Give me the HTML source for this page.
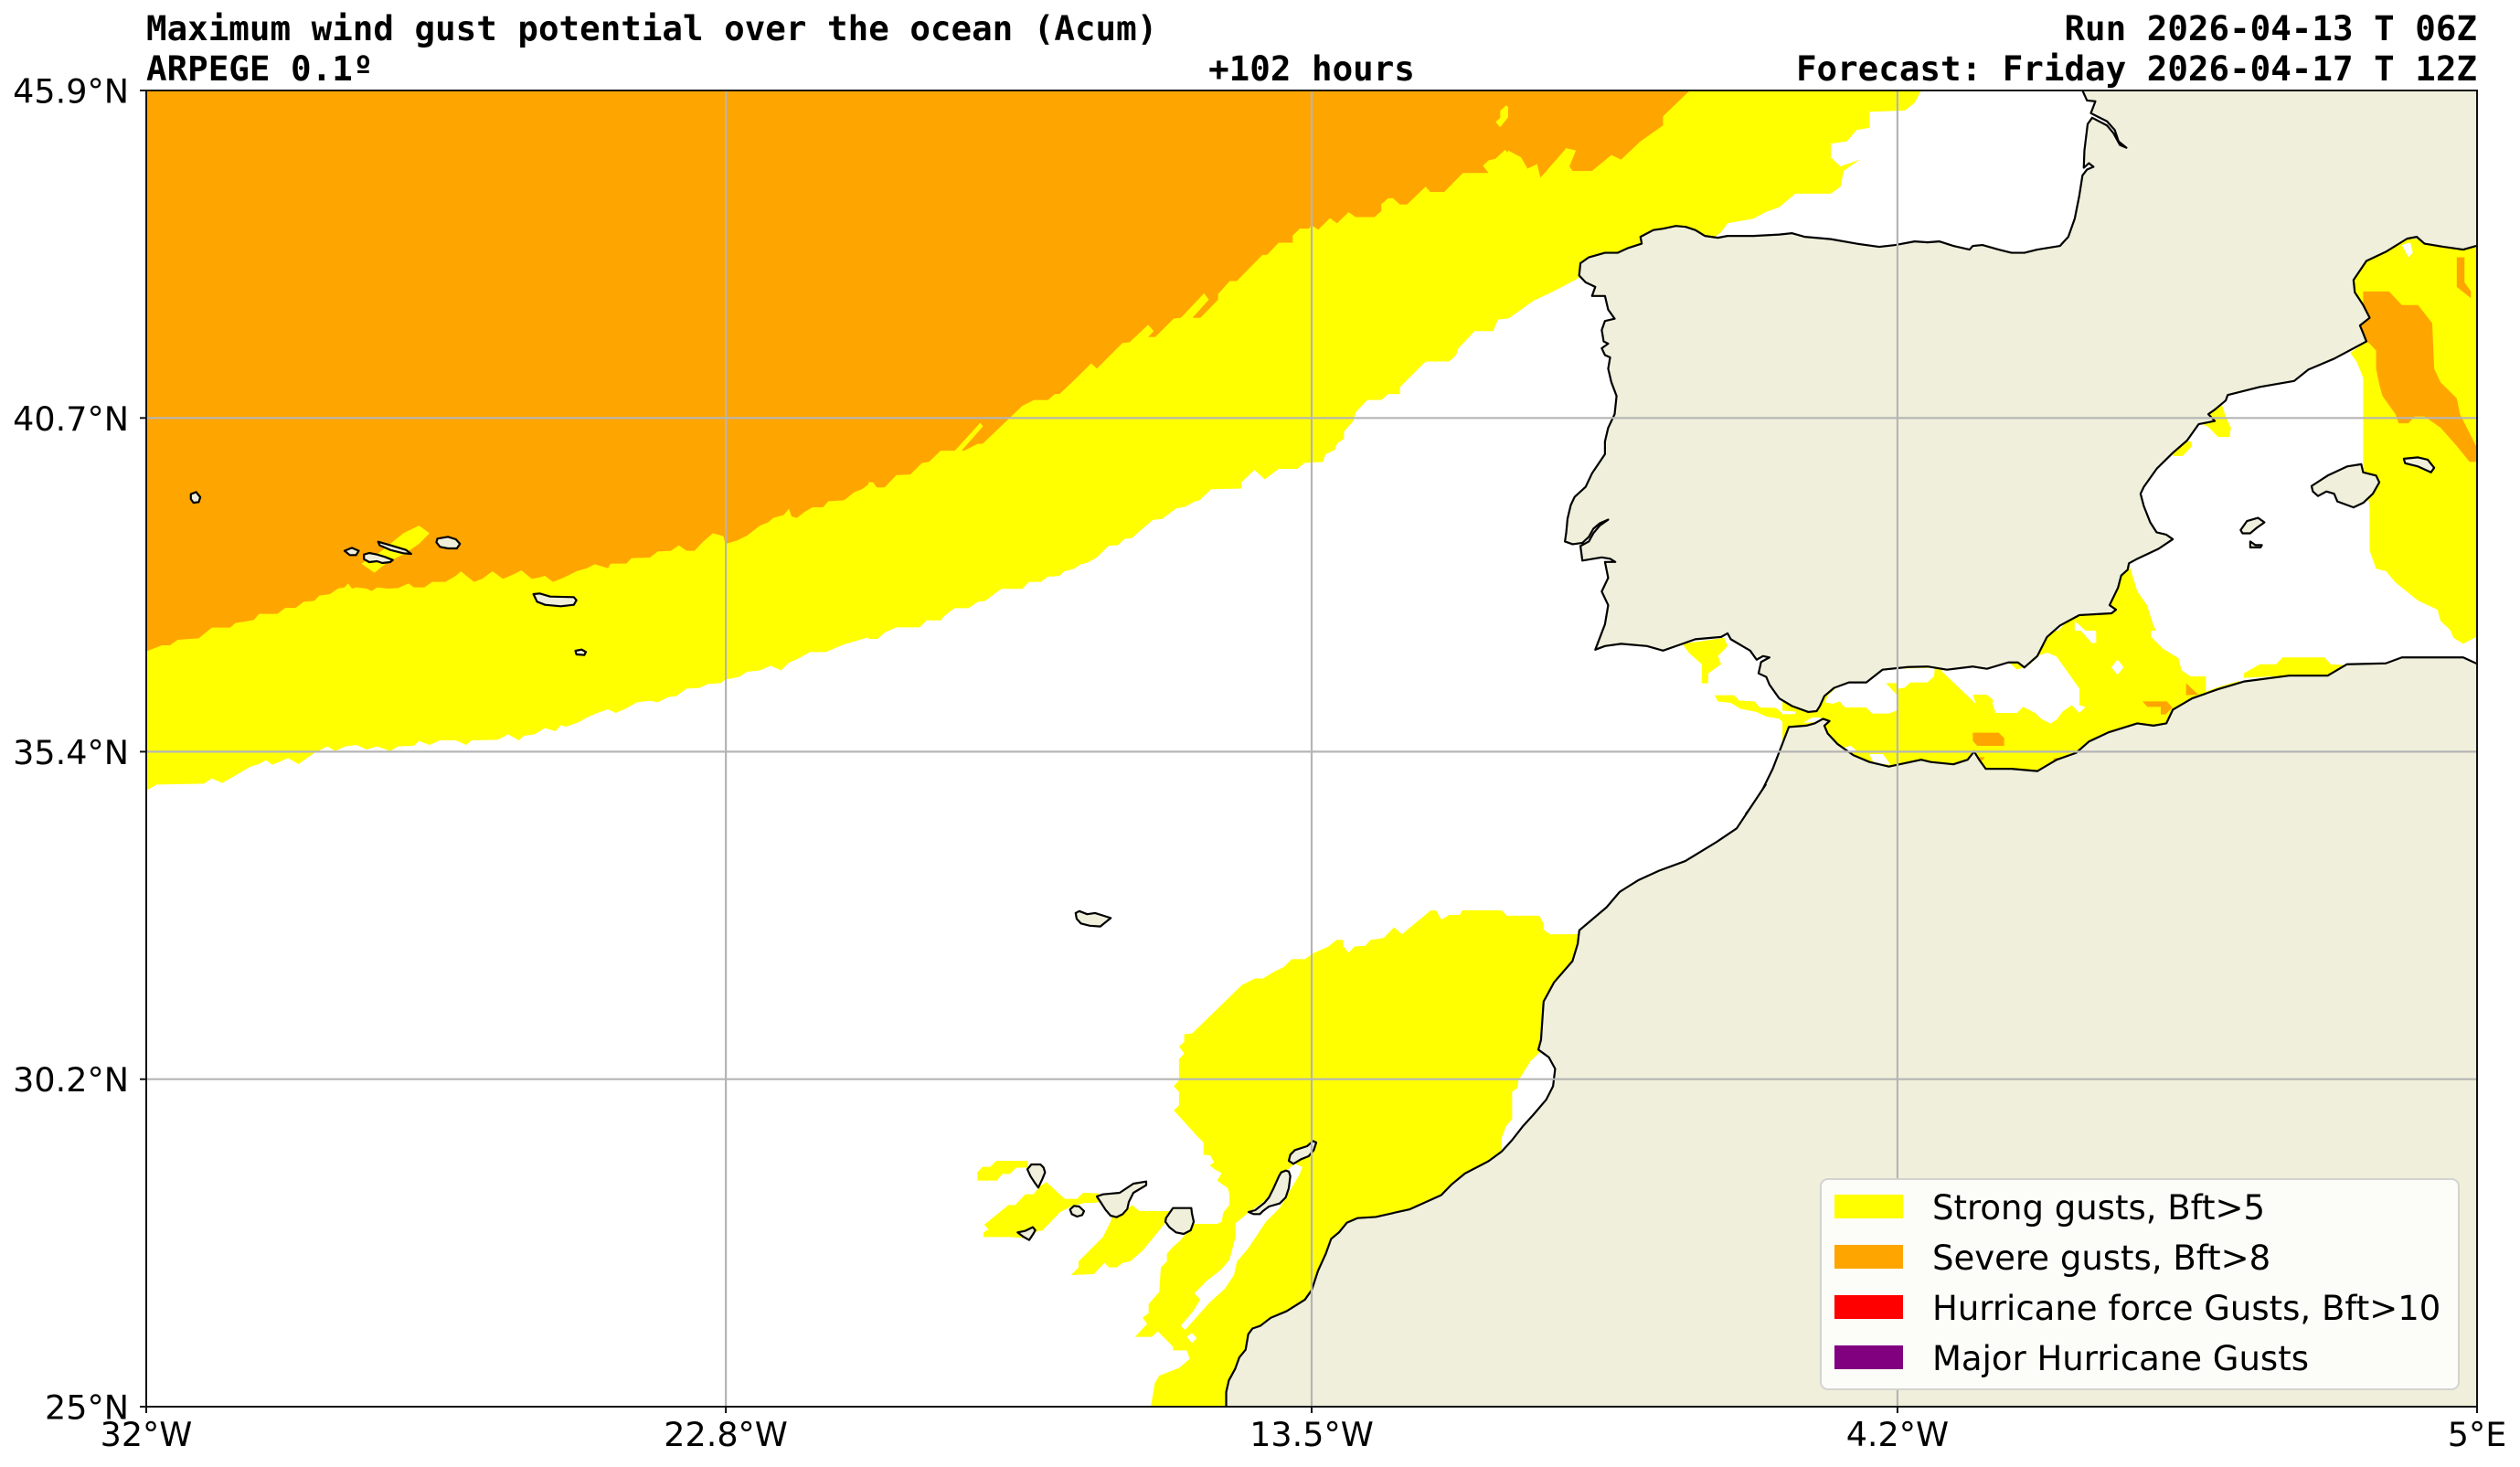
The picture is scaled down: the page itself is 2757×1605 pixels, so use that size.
<!DOCTYPE html>
<html><head><meta charset="utf-8"><style>
html,body{margin:0;padding:0;background:#fff;}
body{width:2757px;height:1605px;overflow:hidden;}
svg{display:block;}
.y{fill:#ffff00}.o{fill:#ffa500}.w{fill:#fff}.l{fill:#efefdb}
.c{fill:none;stroke:#000;stroke-width:2.2;stroke-linejoin:round;vector-effect:non-scaling-stroke}
.i{fill:#efefdb;stroke:#000;stroke-width:2.2;stroke-linejoin:round;vector-effect:non-scaling-stroke}
.tt{font-family:"DejaVu Sans Mono","Liberation Mono",monospace;font-weight:bold;font-size:37.5px;fill:#000}
.tk{font-family:"DejaVu Sans","Liberation Sans",sans-serif;font-size:36.5px;fill:#000}
.lg{font-family:"DejaVu Sans","Liberation Sans",sans-serif;font-size:37px;fill:#000}
</style></head><body>
<svg width="2757" height="1605" viewBox="0 0 2757 1605" xmlns="http://www.w3.org/2000/svg">
<defs>
<clipPath id="ax"><rect x="160" y="99" width="2550" height="1440"/></clipPath>
<clipPath id="c7"><rect x="160" y="420" width="900" height="480"/></clipPath>
<clipPath id="c8"><rect x="950" y="99" width="800" height="600"/></clipPath>
<clipPath id="c4"><rect x="1650" y="90" width="1107" height="780"/></clipPath>
<clipPath id="c5"><rect x="1000" y="900" width="900" height="660"/></clipPath>
<clipPath id="c9"><rect x="1050" y="1240" width="450" height="300"/></clipPath>
<clipPath id="c10"><rect x="1950" y="690" width="500" height="170"/></clipPath>
</defs>
<rect x="0" y="0" width="2757" height="1605" fill="#fff"/>
<g clip-path="url(#ax)">
<rect x="160" y="99" width="850" height="330" class="o"/>

<!-- Z7 -->
<g clip-path="url(#c7)"><g transform="translate(160,420) scale(0.57399,0.33333)">
<rect x="-10" y="-10" width="1620" height="1460" class="w"/>
<polygon class="y" points="-10,-10 1600,-10 1600,735 1545,735 1520,745 1505,755 1495,775 1475,795 1430,795 1410,800 1395,818 1380,830 1360,840 1330,855 1320,862 1295,880 1265,880 1245,900 1225,915 1210,940 1190,925 1170,940 1145,945 1130,962 1104,970 1095,982 1070,985 1055,998 1030,1000 1010,1025 995,1028 975,1045 960,1040 935,1045 915,1065 895,1080 880,1068 860,1080 840,1095 825,1110 800,1125 790,1120 780,1140 760,1130 740,1150 720,1155 710,1170 690,1150 670,1168 620,1170 610,1185 590,1170 560,1170 540,1185 520,1172 510,1188 480,1190 465,1205 440,1190 420,1200 400,1185 380,1190 360,1205 345,1190 320,1212 290,1248 270,1228 255,1240 240,1250 228,1235 215,1248 200,1255 180,1275 165,1290 145,1310 125,1295 110,1312 20,1315 0,1335 -10,1340"/>
<polygon class="o" points="-10,-10 1700,-10 1700,0 1568,200 1545,230 1530,240 1500,265 1475,270 1455,298 1430,300 1410,318 1390,338 1380,325 1365,345 1350,355 1330,382 1300,385 1290,405 1270,405 1255,420 1240,440 1230,435 1225,410 1215,430 1195,440 1185,455 1170,465 1145,498 1125,515 1104,525 1100,500 1080,490 1060,520 1045,548 1030,548 1015,530 1000,548 975,550 960,570 925,572 915,590 885,590 880,605 855,592 840,605 820,615 805,628 790,640 775,650 760,630 750,635 735,640 715,612 700,625 680,640 660,615 640,640 625,650 610,630 600,615 590,630 570,650 545,650 530,668 510,668 500,655 480,670 460,672 440,668 430,680 420,672 400,668 392,672 385,655 378,668 365,672 350,690 330,695 320,712 300,715 285,735 265,735 250,755 215,755 205,775 170,785 160,800 125,800 100,835 60,840 45,858 30,858 0,878 -10,880"/>
<polygon class="y" points="410,590 440,560 490,490 520,465 540,490 520,525 490,560 460,585 435,620"/>
<polygon class="i" points="85,362 95,355 103,372 100,388 90,390 85,378"/>
<polygon class="i" points="378,548 392,538 405,548 400,562 388,562"/>
<polygon class="i" points="415,560 425,555 440,560 455,568 470,578 465,585 450,588 440,582 425,585 415,575"/>
<polygon class="i" points="442,518 470,532 495,545 505,558 490,556 465,545 445,530"/>
<polygon class="i" points="555,508 575,502 590,510 598,525 592,540 575,540 560,535 553,520"/>
<polygon class="i" points="738,690 750,688 770,698 815,700 820,710 815,725 790,730 760,725 745,715"/>
<polygon class="i" points="818,876 830,872 838,880 835,890 820,888"/>
</g></g>

<!-- Z8 -->
<g clip-path="url(#c8)"><g transform="translate(950,99) scale(0.5102,0.38265)">
<rect x="-10" y="-10" width="1620" height="1620" class="w"/>
<polygon class="y" points="-10,-10 1600,-10 1600,520 1568,540 1530,545 1505,545 1480,578 1465,580 1440,598 1420,612 1410,618 1385,650 1350,655 1340,688 1300,688 1265,738 1260,758 1245,775 1195,775 1140,848 1140,868 1115,868 1100,885 1070,885 1045,920 1040,945 1020,975 1020,995 1005,1010 1000,1028 980,1040 975,1062 935,1065 920,1082 880,1082 860,1102 850,1112 828,1085 800,1120 800,1138 735,1140 710,1172 700,1175 680,1190 660,1195 650,1205 630,1225 610,1228 580,1262 565,1280 550,1282 535,1300 515,1302 490,1335 470,1350 455,1355 440,1368 420,1375 410,1388 385,1390 370,1405 345,1405 330,1425 285,1425 265,1445 250,1460 235,1462 215,1480 185,1480 165,1500 155,1515 125,1515 110,1535 60,1535 35,1550 20,1568 0,1590 -10,1590"/>
<polygon class="o" points="-10,-10 1600,-10 1600,190 1568,205 1545,235 1518,235 1505,215 1530,183 1518,168 1490,185 1440,252 1437,238 1445,218 1438,205 1425,218 1410,220 1400,188 1385,200 1380,185 1365,170 1345,195 1330,200 1318,215 1330,236 1275,236 1235,290 1205,290 1195,275 1155,326 1140,326 1125,308 1115,308 1100,325 1100,345 1085,362 1045,362 1030,348 1005,380 990,365 965,398 950,385 945,395 925,395 910,415 910,435 880,435 855,470 845,470 790,545 775,545 750,582 750,598 712,650 695,650 730,598 720,580 670,650 655,652 615,705 600,705 612,688 600,670 560,720 545,722 490,795 478,780 440,830 410,868 400,868 385,885 355,885 330,902 300,940 245,1010 235,1010 205,1030 155,1030 130,1062 115,1065 90,1098 60,1100 35,1135 18,1135 10,1120 -10,1120"/>
<polygon class="y" points="1355,58 1368,42 1382,60 1355,105 1345,90 1355,78"/>
<polygon class="y" points="165,1060 240,950 246,960 180,1060"/>
</g></g>

<!-- Z4 -->
<g clip-path="url(#c4)"><g transform="translate(1650,90) scale(0.70599,0.49745)">
<rect x="-60" y="-60" width="1700" height="1700" class="w"/>
<polygon class="y" points="-50,-50 640,-50 640,18 630,45 615,62 560,65 560,100 540,105 525,130 500,135 500,165 515,185 545,170 520,195 515,230 500,245 445,245 420,275 400,285 380,300 340,310 330,330 300,360 150,420 110,430 70,460 40,480 0,520 -50,560"/>
<polygon class="o" points="-50,-50 282,-50 280,20 240,75 240,95 205,130 175,170 160,160 130,195 100,195 95,185 105,150 90,145 50,210 45,180 30,190 20,165 0,150 -50,150"/>
<polygon class="y" points="270,1235 335,1222 340,1240 325,1262 330,1280 310,1300 310,1322 300,1322 300,1280 280,1255"/>
<polygon class="y" points="320,1348 350,1348 358,1360 382,1362 390,1375 415,1376 425,1388 478,1390 470,1412 432,1416 420,1400 400,1395 385,1385 360,1378 345,1365 325,1362"/>
<polygon class="y" points="962,1060 975,1120 990,1150 1000,1195 1010,1222 1020,1250 1045,1270 1045,1300 1065,1305 1080,1320 1080,1345 1060,1360 1000,1420 600,1500 480,1390 700,1300 850,1210 880,1165 940,1130 950,1085"/>
<polygon class="w" points="878,1185 910,1225 898,1232 878,1205"/>
<polygon class="y" points="1032,792 1058,790 1060,800 1045,822 1030,822"/>
<polygon class="y" points="1090,715 1105,705 1112,735 1120,760 1118,780 1100,780 1085,758 1072,750"/>
<polygon class="y" points="1140,1310 1140,1300 1165,1280 1190,1280 1200,1265 1265,1265 1275,1280 1300,1282 1270,1305 1210,1305"/>
<polygon class="y" points="1330,570 1305,595 1315,615 1325,650 1325,840 1335,935 1335,1030 1345,1070 1360,1075 1375,1100 1410,1140 1440,1160 1445,1185 1460,1205 1465,1222 1480,1235 1500,1220 1600,1220 1600,340 1420,345 1393,344 1360,373 1330,393 1310,435 1312,462 1325,490 1335,518 1320,535 1325,552"/>
<polygon class="w" points="1385,358 1398,352 1402,375 1395,385"/>
<polygon class="o" points="1325,460 1365,460 1385,490 1410,490 1432,530 1435,630 1445,660 1470,695 1475,730 1500,800 1500,835 1490,835 1470,800 1445,760 1420,735 1405,735 1395,750 1380,750 1375,730 1355,690 1350,665 1345,630 1345,590 1335,575 1330,570 1325,552 1320,535 1335,518 1325,490"/>
<polygon class="o" points="1470,385 1482,385 1482,440 1492,460 1492,475 1470,450"/>
</g></g>

<!-- Z5 -->
<g clip-path="url(#c5)"><g transform="translate(1000,900) scale(0.57399,0.42092)">
<rect x="-10" y="-10" width="1620" height="1620" class="w"/>
<polygon class="y" points="985,228 995,228 1005,252 1020,240 1040,240 1045,228 1120,228 1130,242 1192,242 1200,262 1200,278 1212,290 1268,290 1300,300 1250,590 1192,598 1175,620 1165,642 1152,670 1150,690 1140,700 1140,770 1128,790 1120,820 1120,855 1150,900 1600,1600 550,1600 550,830 495,748 505,735 505,700 495,685 505,670 505,615 515,600 505,582 515,570 515,550 530,548 625,422 650,405 665,405 690,385 705,375 720,355 745,355 760,340 790,322 805,305 818,305 818,320 828,338 840,322 860,320 870,305 895,300 915,272 930,290"/>
<polygon class="i" points="308,235 315,230 330,238 345,235 375,248 355,270 335,268 318,262 310,250"/>
</g></g>

<!-- Z9 -->
<g clip-path="url(#c9)"><g transform="translate(1050,1240) scale(0.33333)">
<rect x="-10" y="-10" width="1380" height="930" class="w"/>
<polygon class="y" points="770,-10 770,0 800,30 800,70 822,72 835,95 820,105 840,120 860,130 845,155 880,180 885,200 885,235 865,260 860,290 845,297 770,297 760,310 720,355 700,372 680,395 680,420 660,440 655,520 620,560 620,590 600,605 615,625 575,668 630,668 650,650 700,700 700,712 745,712 755,740 720,770 655,795 640,820 625,910 1400,910 1400,-10"/>
<polygon class="w" points="945,262 1000,222 1050,160 1075,120 1100,100 1125,110 1115,135 1065,220 1050,245 1005,290 945,380 910,420 900,465 870,510 820,555 740,645 725,632 765,585 790,545 770,525 810,485 860,445 885,415 905,340 905,295"/>
<polygon class="w" points="745,668 762,655 778,672 762,688"/>
<polygon class="y" points="58,128 75,110 100,110 120,90 222,90 225,112 185,113 165,133 140,133 122,155 58,155"/>
<polygon class="y" points="78,340 78,325 95,315 80,300 160,235 182,235 215,200 242,200 265,172 285,160 345,215 385,215 405,195 455,197 462,225 440,228 410,228 365,240 330,258 270,320 255,320 230,345 165,340"/>
<polygon class="y" points="365,465 390,440 390,420 470,340 495,290 500,272 540,260 565,235 590,255 690,255 678,290 600,385 560,420 535,425 515,440 490,440 475,425 440,462"/>
<polygon class="i" points="222,118 235,102 265,102 275,112 280,128 272,148 258,178 245,160 232,140"/>
<polygon class="i" points="190,325 215,320 240,308 248,318 240,332 228,350 210,340"/>
<polygon class="i" points="362,250 375,238 392,240 408,255 402,268 385,273 368,265"/>
<polygon class="i" points="450,207 470,200 525,195 570,165 612,158 612,170 570,195 555,225 550,248 535,265 515,275 495,270 478,250 462,225"/>
<polygon class="i" points="677,278 700,245 760,245 762,262 768,290 758,318 735,330 710,325 688,308 675,290"/>
<polygon class="i" points="948,258 970,252 985,240 1000,228 1015,210 1030,180 1048,140 1055,128 1070,122 1080,125 1085,140 1080,180 1070,210 1050,230 1015,240 995,255 985,265 965,265"/>
<polygon class="i" points="1080,90 1085,70 1100,55 1140,42 1160,25 1170,30 1162,55 1145,75 1120,85 1095,100"/>
</g></g>

<!-- Z10 -->
<g clip-path="url(#c10)"><g transform="translate(1950,690) scale(0.33333)">
<rect x="0" y="0" width="1500" height="510" class="y"/>
<polygon class="w" points="140,235 150,212 178,186 220,172 275,170 300,152 330,128 375,125 375,172 340,172 375,210 375,262 350,272 295,272 275,252 205,252 188,232 165,240"/>
<polygon class="w" points="375,125 500,122 498,150 475,170 420,170 400,188 375,190"/>
<polygon class="w" points="520,130 535,130 570,118 620,120 665,128 690,118 710,105 740,101 770,128 795,120 815,108 845,80 870,72 900,85 975,190 975,245 995,250 975,270 950,245 920,265 900,292 880,305 850,290 830,270 790,250 770,270 700,270 690,240 690,225 670,210 625,210 635,240"/>
<polygon class="w" points="1210,0 1210,20 1250,60 1300,90 1310,130 1340,150 1390,150 1390,200 1440,182 1500,165 1500,0"/>
<polygon class="w" points="980,0 1030,0 1030,40 1015,40"/>
<polygon class="w" points="1080,120 1100,95 1120,120 1100,145"/>
<polygon class="w" points="68,302 98,285 125,285 128,300"/>
<polygon class="w" points="0,262 45,266 40,274 0,274"/>
<polygon class="w" points="195,385 225,378 250,400 215,400"/>
<polygon class="w" points="285,405 330,405 355,440 300,435"/>
<polygon class="o" points="625,335 710,335 728,352 728,378 640,378 625,362"/>
<polygon class="o" points="1325,172 1365,210 1325,212"/>
<polygon class="o" points="1182,232 1262,232 1280,252 1258,275 1242,275 1242,250 1198,250"/>
<polygon class="o" points="640,415 665,415 650,432"/>
<polygon class="o" points="890,418 915,418 905,440 890,440"/>
</g></g>

<!-- LAND -->
<g transform="translate(1650,90) scale(0.70599,0.49745)">
<polygon class="l" points="888,-50 888,-20 890,18 897,40 910,42 903,68 928,86 940,105 946,130 958,144 948,138 938,112 928,95 905,78 898,92 893,150 892,188 900,178 907,186 897,192 890,205 885,250 878,300 868,340 855,360 820,368 800,375 780,375 760,368 735,358 720,360 715,368 690,360 668,350 650,352 630,350 600,358 575,362 540,355 500,345 460,340 440,332 420,335 380,338 340,338 325,342 305,338 290,325 275,318 260,316 240,322 225,325 205,340 207,355 185,365 170,375 150,375 125,385 112,398 110,425 120,440 135,450 130,470 150,470 155,500 165,520 150,525 145,545 148,570 155,575 145,585 150,600 158,605 155,630 160,660 168,690 165,730 155,760 150,790 150,818 130,860 120,890 103,912 97,930 92,960 90,990 88,1010 100,1016 115,1013 125,1000 132,982 142,970 155,962 142,975 132,992 125,1010 112,1020 115,1052 145,1045 158,1048 166,1055 150,1055 155,1090 145,1120 155,1150 150,1192 135,1248 150,1240 175,1235 215,1240 240,1250 270,1235 290,1225 330,1220 340,1212 345,1225 375,1250 385,1270 395,1262 405,1265 392,1275 388,1300 400,1308 405,1325 420,1355 440,1372 465,1385 478,1383 483,1372 490,1350 505,1332 528,1320 555,1320 580,1292 620,1286 650,1285 680,1292 720,1285 742,1290 775,1276 790,1276 800,1287 820,1262 835,1220 855,1195 885,1172 935,1168 942,1160 932,1150 945,1112 950,1085 960,1072 962,1058 975,1048 1008,1026 1030,1005 1020,995 1005,990 995,968 985,932 980,905 985,890 1005,850 1030,815 1052,788 1070,752 1095,745 1085,730 1095,720 1112,700 1115,688 1165,670 1218,657 1240,632 1280,608 1330,570 1325,552 1320,535 1335,518 1325,490 1312,462 1310,435 1330,393 1360,373 1393,344 1408,340 1420,355 1450,362 1480,368 1500,360 1600,360 1600,-50"/>
<polygon class="l" points="1600,1280 1500,1278 1480,1265 1385,1265 1360,1278 1300,1280 1270,1305 1210,1305 1140,1318 1100,1335 1060,1355 1030,1380 1020,1410 1000,1415 975,1410 930,1430 900,1450 880,1475 850,1490 820,1515 780,1510 740,1510 730,1490 722,1472 712,1490 690,1500 655,1495 640,1490 590,1505 560,1495 535,1480 510,1455 495,1432 490,1415 498,1405 488,1400 475,1410 462,1415 435,1418 425,1455 410,1510 390,1568 368,1610 1600,1610"/>
<polyline class="c" points="888,-20 890,18 897,40 910,42 903,68 928,86 940,105 946,130 958,144 948,138 938,112 928,95 905,78 898,92 893,150 892,188 900,178 907,186 897,192 890,205 885,250 878,300 868,340 855,360 820,368 800,375 780,375 760,368 735,358 720,360 715,368 690,360 668,350 650,352 630,350 600,358 575,362 540,355 500,345 460,340 440,332 420,335 380,338 340,338 325,342 305,338 290,325 275,318 260,316 240,322 225,325 205,340 207,355 185,365 170,375 150,375 125,385 112,398 110,425 120,440 135,450 130,470 150,470 155,500 165,520 150,525 145,545 148,570 155,575 145,585 150,600 158,605 155,630 160,660 168,690 165,730 155,760 150,790 150,818 130,860 120,890 103,912 97,930 92,960 90,990 88,1010 100,1016 115,1013 125,1000 132,982 142,970 155,962 142,975 132,992 125,1010 112,1020 115,1052 145,1045 158,1048 166,1055 150,1055 155,1090 145,1120 155,1150 150,1192 135,1248 150,1240 175,1235 215,1240 240,1250 270,1235 290,1225 330,1220 340,1212 345,1225 375,1250 385,1270 395,1262 405,1265 392,1275 388,1300 400,1308 405,1325 420,1355 440,1372 465,1385 478,1383 483,1372 490,1350 505,1332 528,1320 555,1320 580,1292 620,1286 650,1285 680,1292 720,1285 742,1290 775,1276 790,1276 800,1287 820,1262 835,1220 855,1195 885,1172 935,1168 942,1160 932,1150 945,1112 950,1085 960,1072 962,1058 975,1048 1008,1026 1030,1005 1020,995 1005,990 995,968 985,932 980,905 985,890 1005,850 1030,815 1052,788 1070,752 1095,745 1085,730 1095,720 1112,700 1115,688 1165,670 1218,657 1240,632 1280,608 1330,570 1325,552 1320,535 1335,518 1325,490 1312,462 1310,435 1330,393 1360,373 1393,344 1408,340 1420,355 1450,362 1480,368 1500,360 1600,360"/>
<polyline class="c" points="1600,1280 1500,1278 1480,1265 1385,1265 1360,1278 1300,1280 1270,1305 1210,1305 1140,1318 1100,1335 1060,1355 1030,1380 1020,1410 1000,1415 975,1410 930,1430 900,1450 880,1475 850,1490 820,1515 780,1510 740,1510 730,1490 722,1472 712,1490 690,1500 655,1495 640,1490 590,1505 560,1495 535,1480 510,1455 495,1432 490,1415 498,1405 488,1400 475,1410 462,1415 435,1418 425,1455 410,1510 390,1568 368,1610"/>
<polygon class="i" points="1245,888 1270,865 1300,845 1322,840 1325,858 1345,865 1350,880 1340,905 1325,925 1310,935 1285,922 1280,905 1268,900 1255,910 1247,900"/>
<polygon class="i" points="1388,828 1410,825 1425,830 1435,848 1430,858 1410,845 1390,838"/>
<polygon class="i" points="1135,985 1145,965 1162,958 1172,968 1160,980 1150,992 1138,992"/>
<polygon class="i" points="1150,1010 1158,1018 1168,1018 1166,1023 1150,1023"/>
</g>
<g transform="translate(1000,900) scale(0.57399,0.42092)">
<polygon class="l" points="1624,-100 1568,15 1530,50 1470,100 1420,125 1380,150 1345,180 1320,220 1268,280 1265,315 1255,360 1220,415 1200,465 1195,565 1190,590 1200,600 1210,610 1222,640 1218,685 1205,720 1180,760 1160,790 1140,825 1120,855 1095,880 1050,912 1025,940 1005,968 945,1005 880,1025 845,1028 825,1040 810,1065 795,1082 785,1120 770,1165 758,1215 745,1240 710,1270 680,1287 660,1308 645,1315 637,1330 632,1370 620,1390 612,1420 600,1450 595,1480 595,1530 595,1600 3000,1600 3000,-100"/>
<polyline class="c" points="1624,-100 1568,15 1530,50 1470,100 1420,125 1380,150 1345,180 1320,220 1268,280 1265,315 1255,360 1220,415 1200,465 1195,565 1190,590 1200,600 1210,610 1222,640 1218,685 1205,720 1180,760 1160,790 1140,825 1120,855 1095,880 1050,912 1025,940 1005,968 945,1005 880,1025 845,1028 825,1040 810,1065 795,1082 785,1120 770,1165 758,1215 745,1240 710,1270 680,1287 660,1308 645,1315 637,1330 632,1370 620,1390 612,1420 600,1450 595,1480 595,1560"/>
</g>

<!-- gridlines -->
<g stroke="#b5b5b5" stroke-width="2.2">
<line x1="794.1" y1="99" x2="794.1" y2="1539"/>
<line x1="1435" y1="99" x2="1435" y2="1539"/>
<line x1="2075.9" y1="99" x2="2075.9" y2="1539"/>
<line x1="160" y1="457.3" x2="2710" y2="457.3"/>
<line x1="160" y1="822.4" x2="2710" y2="822.4"/>
<line x1="160" y1="1180.7" x2="2710" y2="1180.7"/>
</g>

<!-- legend -->
<rect x="1992" y="1290" width="698" height="230" rx="8" ry="8" fill="#fcfcf8" stroke="#d3d3cf" stroke-width="2"/>
<rect x="2007" y="1307" width="75" height="26" fill="#ffff00"/>
<rect x="2007" y="1362" width="75" height="26" fill="#ffa500"/>
<rect x="2007" y="1417" width="75" height="26" fill="#ff0000"/>
<rect x="2007" y="1472" width="75" height="26" fill="#800080"/>
<text class="lg" x="2114" y="1334">Strong gusts, Bft&gt;5</text>
<text class="lg" x="2114" y="1389">Severe gusts, Bft&gt;8</text>
<text class="lg" x="2114" y="1444">Hurricane force Gusts, Bft&gt;10</text>
<text class="lg" x="2114" y="1499">Major Hurricane Gusts</text>
</g>

<!-- spines -->
<rect x="160" y="99" width="2550" height="1440" fill="none" stroke="#111" stroke-width="2"/>

<!-- ticks -->
<g stroke="#111" stroke-width="2">
<line x1="153" y1="99" x2="160" y2="99"/>
<line x1="153" y1="457.3" x2="160" y2="457.3"/>
<line x1="153" y1="822.4" x2="160" y2="822.4"/>
<line x1="153" y1="1180.7" x2="160" y2="1180.7"/>
<line x1="153" y1="1539" x2="160" y2="1539"/>
<line x1="160" y1="1539" x2="160" y2="1546"/>
<line x1="794.1" y1="1539" x2="794.1" y2="1546"/>
<line x1="1435" y1="1539" x2="1435" y2="1546"/>
<line x1="2075.9" y1="1539" x2="2075.9" y2="1546"/>
<line x1="2710" y1="1539" x2="2710" y2="1546"/>
</g>
<g class="tk" text-anchor="end">
<text x="141" y="112.5">45.9°N</text>
<text x="141" y="470.8">40.7°N</text>
<text x="141" y="835.9">35.4°N</text>
<text x="141" y="1194.2">30.2°N</text>
<text x="141" y="1552.5">25°N</text>
</g>
<g class="tk" text-anchor="middle">
<text x="160" y="1582">32°W</text>
<text x="794.1" y="1582">22.8°W</text>
<text x="1435" y="1582">13.5°W</text>
<text x="2075.9" y="1582">4.2°W</text>
<text x="2710" y="1582">5°E</text>
</g>

<!-- titles -->
<text class="tt" x="160" y="44">Maximum wind gust potential over the ocean (Acum)</text>
<text class="tt" x="160" y="88">ARPEGE 0.1º</text>
<text class="tt" x="1435" y="88" text-anchor="middle">+102 hours</text>
<text class="tt" x="2710" y="44" text-anchor="end">Run 2026-04-13 T 06Z</text>
<text class="tt" x="2710" y="88" text-anchor="end">Forecast: Friday 2026-04-17 T 12Z</text>
</svg>
</body></html>
